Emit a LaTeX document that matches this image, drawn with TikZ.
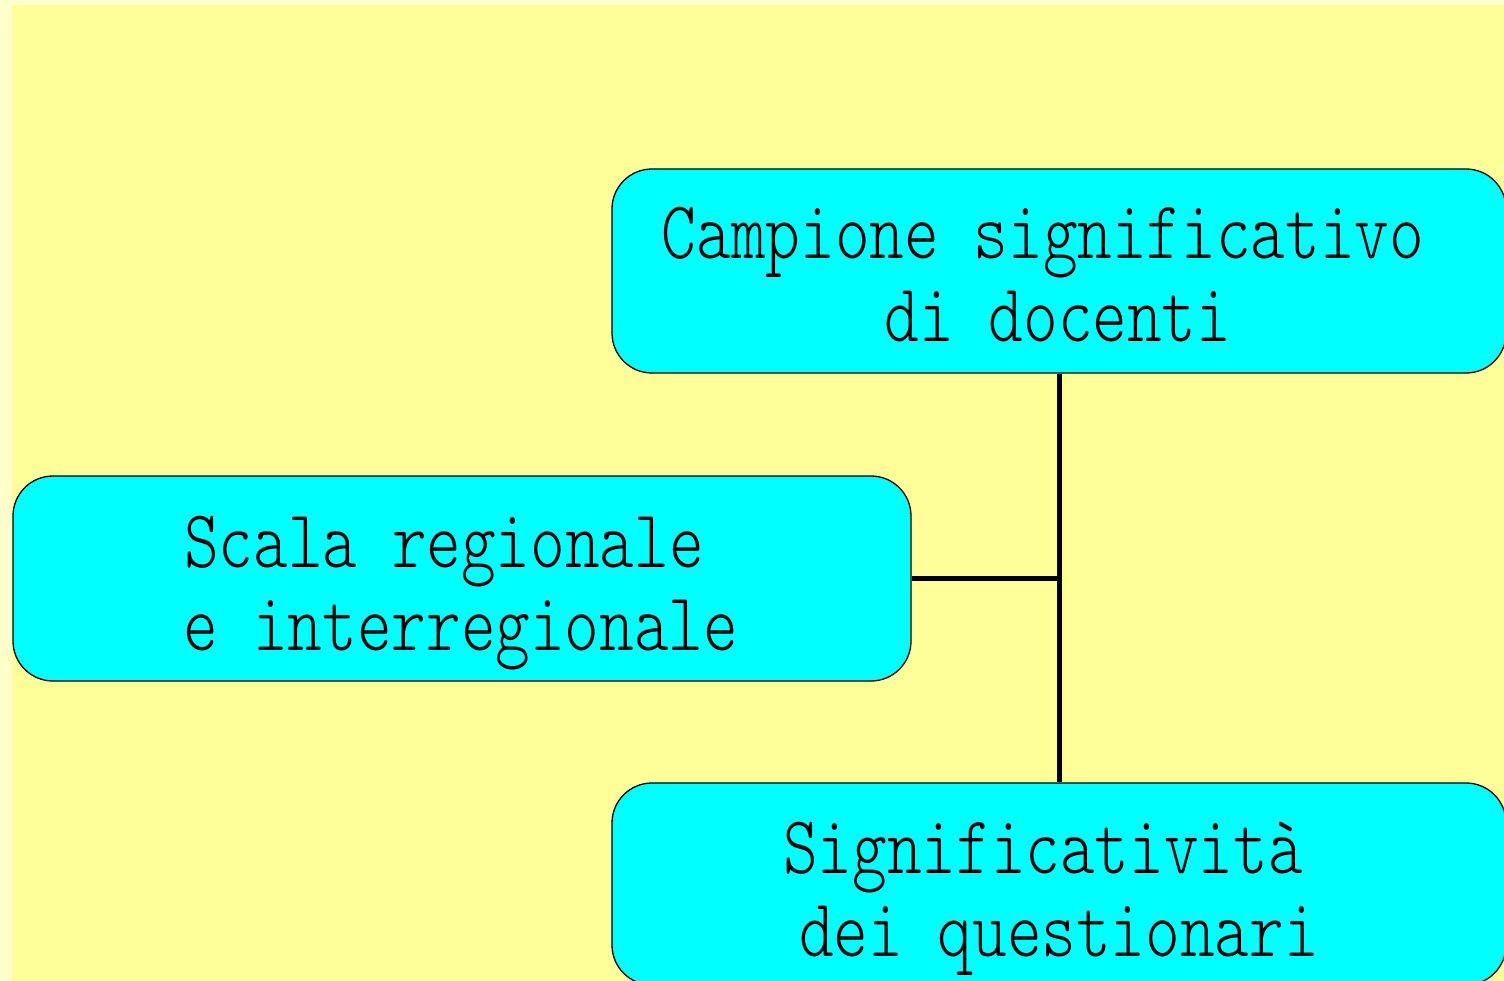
\documentclass[tikz,border=0pt]{standalone}
\usepackage{fontspec}
\usepackage{graphicx}
\newfontfamily\lmlight{lmmonolt10-regular.otf}
\definecolor{outerbg}{HTML}{FFFFCC}
\definecolor{innerbg}{HTML}{FFFF99}
\definecolor{boxfill}{HTML}{00FFFF}
\tikzset{
  box/.style={draw=black, line width=1.3pt, fill=boxfill, rounded corners=40pt, inner sep=0pt},
  lbl/.style={anchor=base, inner sep=0pt, font=\lmlight\fontsize{66}{80}\selectfont},
  link/.style={draw=black, line width=5pt}
}
\newcommand{\tall}[1]{\scalebox{1}[1.25]{#1}}
\begin{document}
\begin{tikzpicture}[x=1pt, y=-1pt]
\useasboundingbox (0,0) rectangle (1504,981);
\clip (0,0) rectangle (1504,981);
\fill[outerbg] (0,0) rectangle (1504,981);
\fill[innerbg] (12,5) rectangle (1504,981);
% boxes
\node[box, minimum width=894pt, minimum height=204pt] (top) at (1059,271) {};
\node[box, minimum width=898pt, minimum height=205pt] (left) at (462,578.5) {};
\node[box, minimum width=894pt, minimum height=202pt] (bot) at (1059,884) {};
% connectors
\coordinate (j) at (left.east -| top.south);
\draw[link] (top.south) -- (bot.north);
\draw[link] (left.east) -- (j);
% texts
\node[lbl] (t1) at (1043,259) {\tall{Campione significativo}};
\node[lbl] (t2) at (1058,342) {\tall{di docenti}};
\node[lbl] (l1) at (444,567) {\tall{Scala regionale}};
\node[lbl] (l2) at (461,650) {\tall{e interregionale}};
\node[lbl] (b1) at (1043,873) {\tall{Significatività}};
\node[lbl] (b2) at (1059,956) {\tall{dei questionari}};
\end{tikzpicture}
\end{document}
